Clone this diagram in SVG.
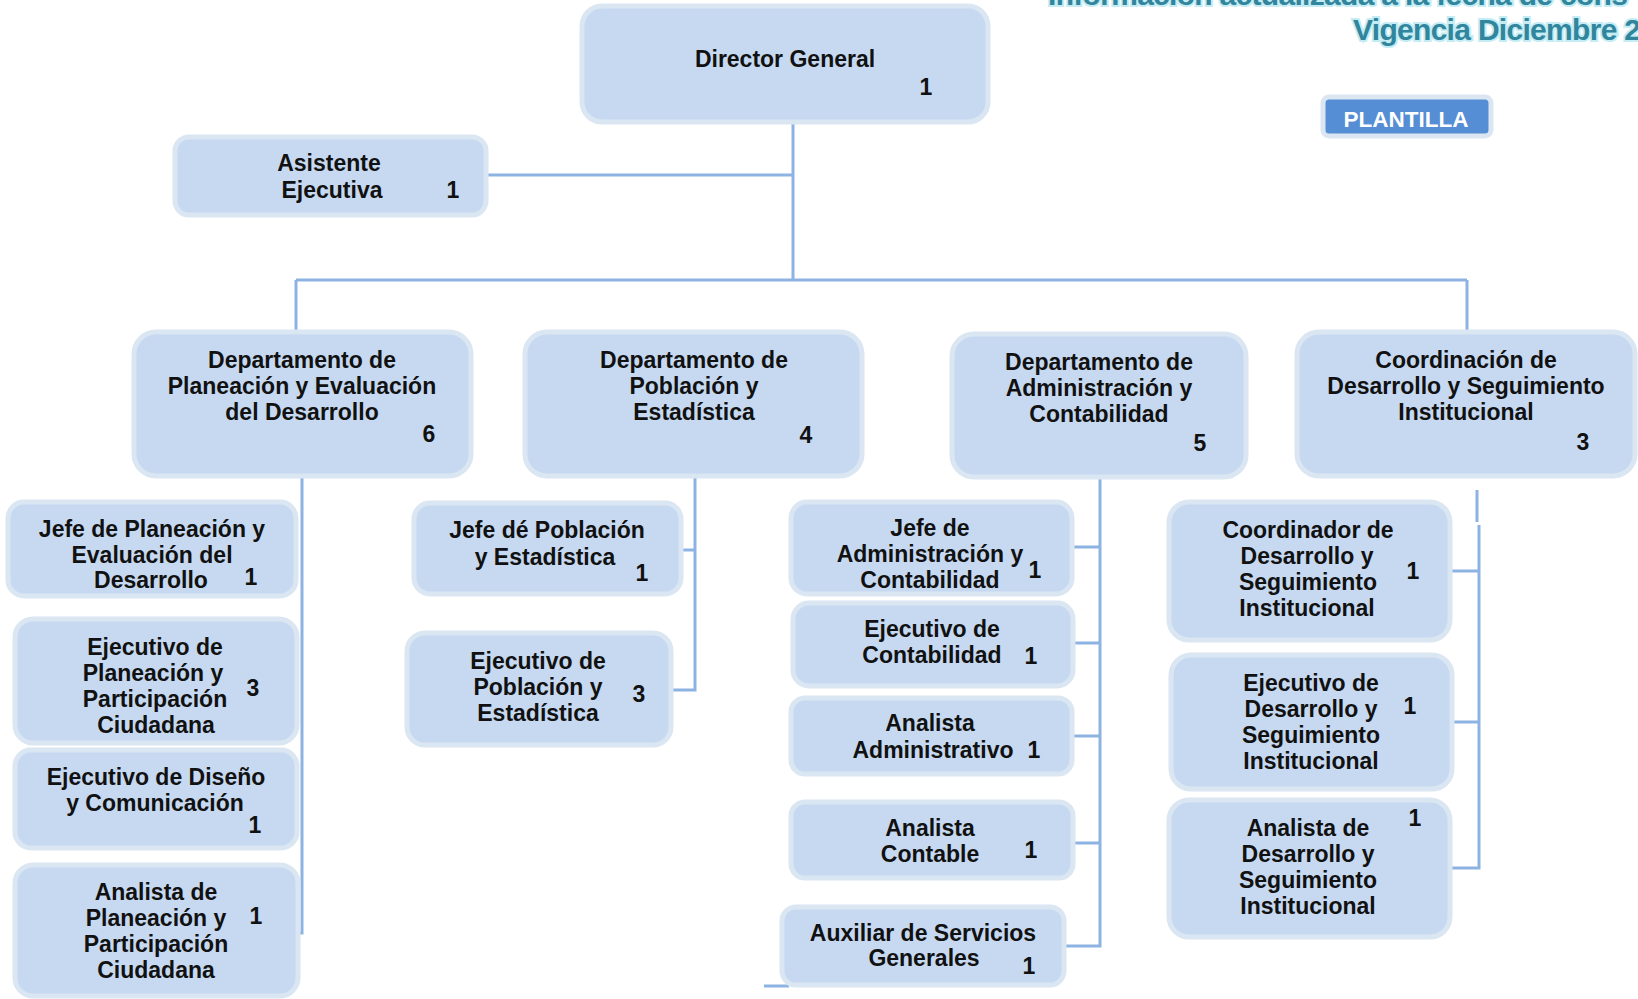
<svg xmlns="http://www.w3.org/2000/svg" width="1638" height="999" viewBox="0 0 1638 999">
<style>
.box{fill:#c6d9f1;stroke:#dbe6f3;stroke-width:5}
.t{font-family:"Liberation Sans",Arial,sans-serif;font-weight:bold;font-size:23px;fill:#111;text-anchor:middle}
.conn{stroke:#8db3e2;stroke-width:3;fill:none}
.title{font-family:"Liberation Sans",Arial,sans-serif;font-weight:bold;font-size:30px;fill:#31859c;stroke:#c4ecf4;stroke-width:4;paint-order:stroke;letter-spacing:-0.7px}
</style>
<rect width="1638" height="999" fill="#ffffff"/>
<g id="title">
<text class="title" x="1048" y="5">Información actualizada a la fecha de cons</text>
<text class="title" x="1353" y="40">Vigencia Diciembre 2</text>
</g>
<g id="plantilla">
<rect x="1323" y="97" width="168" height="39" rx="6" fill="#558ed5" stroke="#dce6f2" stroke-width="5"/>
<text x="1406" y="127" font-family="Liberation Sans, Arial, sans-serif" font-weight="bold" font-size="22.5" fill="#ffffff" text-anchor="middle">PLANTILLA</text>
</g>
<g id="connectors">
<path class="conn" d="M793 122 V280 M486 175 H793 M296 280 H1467 M296 280 V332 M1467 280 V332"/>
<path class="conn" d="M302 476 V933 H297"/>
<path class="conn" d="M695 476 V690 H672 M682 550 H695"/>
<path class="conn" d="M1100 477 V946 H1063 M1072 547 H1100 M1073 643 H1100 M1072 736 H1100 M1059 843 H1100 M764 986 H789"/>
<path class="conn" d="M1477 490 V522 M1479 525 V868 H1450 M1450 571 H1479 M1452 722 H1479"/>
</g>
<g id="director">
<rect class="box" x="582" y="6" width="406" height="116" rx="20"/>
<text class="t" x="785" y="67">Director General</text>
<text class="t" x="926" y="95">1</text>
</g>
<g id="asistente">
<rect class="box" x="175" y="137" width="311" height="78" rx="14"/>
<text class="t" x="329" y="171">Asistente</text>
<text class="t" x="332" y="198">Ejecutiva</text>
<text class="t" x="453" y="198">1</text>
</g>
<g id="dept-planeacion">
<rect class="box" x="134" y="332" width="337" height="144" rx="22"/>
<text class="t" x="302" y="368">Departamento de</text>
<text class="t" x="302" y="394">Planeación y Evaluación</text>
<text class="t" x="302" y="420">del Desarrollo</text>
<text class="t" x="429" y="442">6</text>
</g>
<g id="dept-poblacion">
<rect class="box" x="525" y="332" width="337" height="144" rx="22"/>
<text class="t" x="694" y="368">Departamento de</text>
<text class="t" x="694" y="394">Población y</text>
<text class="t" x="694" y="420">Estadística</text>
<text class="t" x="806" y="443">4</text>
</g>
<g id="dept-administracion">
<rect class="box" x="952" y="334" width="294" height="143" rx="22"/>
<text class="t" x="1099" y="370">Departamento de</text>
<text class="t" x="1099" y="396">Administración y</text>
<text class="t" x="1099" y="422">Contabilidad</text>
<text class="t" x="1200" y="451">5</text>
</g>
<g id="coord-desarrollo">
<rect class="box" x="1297" y="332" width="338" height="144" rx="22"/>
<text class="t" x="1466" y="368">Coordinación de</text>
<text class="t" x="1466" y="394">Desarrollo y Seguimiento</text>
<text class="t" x="1466" y="420">Institucional</text>
<text class="t" x="1583" y="450">3</text>
</g>
<g id="jefe-planeacion">
<rect class="box" x="8" y="502" width="288" height="94" rx="16"/>
<text class="t" x="152" y="537">Jefe de Planeación y</text>
<text class="t" x="152" y="563">Evaluación del</text>
<text class="t" x="151" y="588">Desarrollo</text>
<text class="t" x="251" y="585">1</text>
</g>
<g id="ejec-planeacion">
<rect class="box" x="15" y="619" width="282" height="124" rx="18"/>
<text class="t" x="155" y="655">Ejecutivo de</text>
<text class="t" x="153" y="681">Planeación y</text>
<text class="t" x="155" y="707">Participación</text>
<text class="t" x="156" y="733">Ciudadana</text>
<text class="t" x="253" y="696">3</text>
</g>
<g id="ejec-diseno">
<rect class="box" x="15" y="750" width="282" height="98" rx="16"/>
<text class="t" x="156" y="785">Ejecutivo de Diseño</text>
<text class="t" x="155" y="811">y Comunicación</text>
<text class="t" x="255" y="833">1</text>
</g>
<g id="analista-planeacion">
<rect class="box" x="15" y="865" width="283" height="131" rx="18"/>
<text class="t" x="156" y="900">Analista de</text>
<text class="t" x="156" y="926">Planeación y</text>
<text class="t" x="156" y="952">Participación</text>
<text class="t" x="156" y="978">Ciudadana</text>
<text class="t" x="256" y="924">1</text>
</g>
<g id="jefe-poblacion">
<rect class="box" x="414" y="503" width="267" height="91" rx="16"/>
<text class="t" x="547" y="538">Jefe dé Población</text>
<text class="t" x="545" y="565">y Estadística</text>
<text class="t" x="642" y="581">1</text>
</g>
<g id="ejec-poblacion">
<rect class="box" x="407" y="633" width="264" height="112" rx="18"/>
<text class="t" x="538" y="669">Ejecutivo de</text>
<text class="t" x="538" y="695">Población y</text>
<text class="t" x="538" y="721">Estadística</text>
<text class="t" x="639" y="702">3</text>
</g>
<g id="jefe-administracion">
<rect class="box" x="791" y="502" width="281" height="92" rx="16"/>
<text class="t" x="930" y="536">Jefe de</text>
<text class="t" x="930" y="562">Administración y</text>
<text class="t" x="930" y="588">Contabilidad</text>
<text class="t" x="1035" y="578">1</text>
</g>
<g id="ejec-contabilidad">
<rect class="box" x="793" y="603" width="280" height="83" rx="16"/>
<text class="t" x="932" y="637">Ejecutivo de</text>
<text class="t" x="932" y="663">Contabilidad</text>
<text class="t" x="1031" y="664">1</text>
</g>
<g id="analista-administrativo">
<rect class="box" x="791" y="698" width="281" height="76" rx="14"/>
<text class="t" x="930" y="731">Analista</text>
<text class="t" x="933" y="758">Administrativo</text>
<text class="t" x="1034" y="758">1</text>
</g>
<g id="analista-contable">
<rect class="box" x="791" y="802" width="282" height="76" rx="14"/>
<text class="t" x="930" y="836">Analista</text>
<text class="t" x="930" y="862">Contable</text>
<text class="t" x="1031" y="858">1</text>
</g>
<g id="auxiliar-servicios">
<rect class="box" x="782" y="907" width="282" height="78" rx="14"/>
<text class="t" x="923" y="941">Auxiliar de Servicios</text>
<text class="t" x="924" y="966">Generales</text>
<text class="t" x="1029" y="974">1</text>
</g>
<g id="coordinador-desarrollo">
<rect class="box" x="1169" y="502" width="281" height="138" rx="20"/>
<text class="t" x="1308" y="538">Coordinador de</text>
<text class="t" x="1307" y="564">Desarrollo y</text>
<text class="t" x="1308" y="590">Seguimiento</text>
<text class="t" x="1307" y="616">Institucional</text>
<text class="t" x="1413" y="579">1</text>
</g>
<g id="ejec-desarrollo">
<rect class="box" x="1171" y="655" width="281" height="134" rx="20"/>
<text class="t" x="1311" y="691">Ejecutivo de</text>
<text class="t" x="1311" y="717">Desarrollo y</text>
<text class="t" x="1311" y="743">Seguimiento</text>
<text class="t" x="1311" y="769">Institucional</text>
<text class="t" x="1410" y="714">1</text>
</g>
<g id="analista-desarrollo">
<rect class="box" x="1169" y="800" width="281" height="137" rx="20"/>
<text class="t" x="1308" y="836">Analista de</text>
<text class="t" x="1308" y="862">Desarrollo y</text>
<text class="t" x="1308" y="888">Seguimiento</text>
<text class="t" x="1308" y="914">Institucional</text>
<text class="t" x="1415" y="826">1</text>
</g>
</svg>
